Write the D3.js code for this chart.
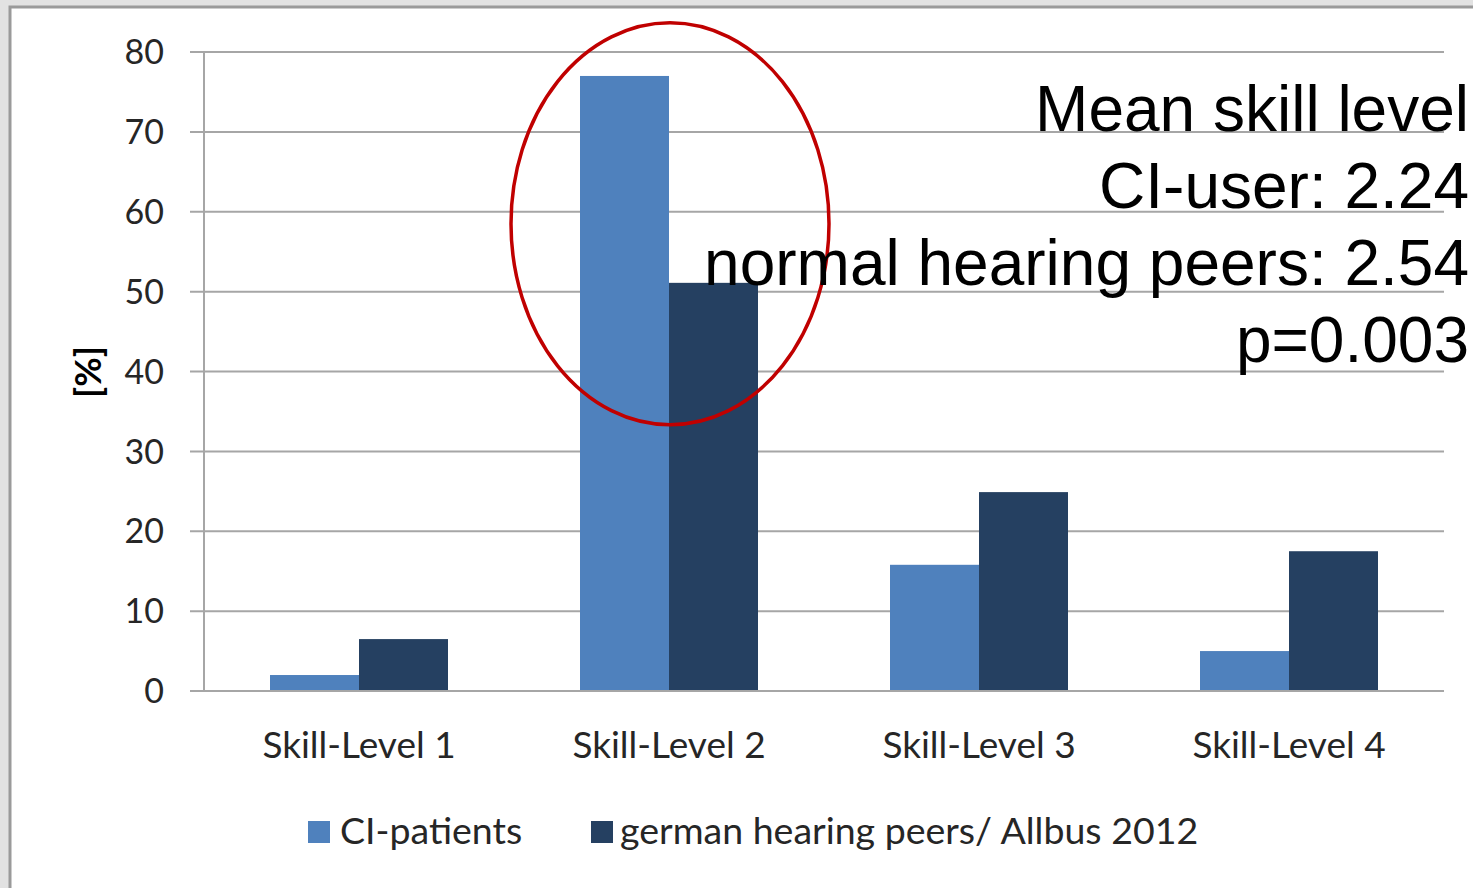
<!DOCTYPE html>
<html>
<head>
<meta charset="utf-8">
<script src="https://cdn.jsdelivr.net/npm/d3@7"></script>
<style>
  html, body { margin: 0; padding: 0; background: #e2e2e2; }
  svg { display: block; }
</style>
</head>
<body>
<svg id="chart" width="1473" height="888"></svg>
<script>
// data
const categories = ['Skill-Level 1', 'Skill-Level 2', 'Skill-Level 3', 'Skill-Level 4'];
const series = ['CI-patients', 'german hearing peers/ Allbus 2012'];
const ciValues = [2.0, 77.0, 15.8, 5.0];
const peerValues = [6.5, 51.1, 24.9, 17.5];
const yTicks = [0, 10, 20, 30, 40, 50, 60, 70, 80];
const noteLines = ['Mean skill level', 'CI-user: 2.24', 'normal hearing peers: 2.54', 'p=0.003'];

const colors = ['#4f81bd', '#254061'];
const font = 'Lato, "Open Sans", sans-serif';

const svg = d3.select('#chart');

// slide frame
svg.append('rect')
    .attr('x', 10).attr('y', 7)
    .attr('width', 1480).attr('height', 900)
    .attr('fill', '#fff')
    .attr('stroke', '#9a9a9a')
    .attr('stroke-width', 3);

const x = d3.scaleBand().domain(categories).range([204, 1444]).padding(0);
const xs = d3.scaleBand().domain(series).range([66, 244]).padding(0);
const y = d3.scaleLinear().domain([0, 80]).range([691, 52]);

// gridlines + ticks
svg.append('g')
    .selectAll('line')
    .data(yTicks)
    .join('line')
    .attr('x1', 190).attr('x2', 1444)
    .attr('y1', d => y(d)).attr('y2', d => y(d))
    .attr('stroke', '#a6a6a6')
    .attr('stroke-width', 2);

// y axis line
svg.append('line')
    .attr('x1', 204).attr('x2', 204)
    .attr('y1', y(80)).attr('y2', y(0))
    .attr('stroke', '#a6a6a6')
    .attr('stroke-width', 2);

// y tick labels
svg.append('g')
    .selectAll('text')
    .data(yTicks)
    .join('text')
    .attr('x', 164)
    .attr('y', d => y(d))
    .attr('dy', '0.36em')
    .attr('text-anchor', 'end')
    .attr('font-family', font)
    .attr('font-size', 34)
    .attr('fill', '#262626')
    .text(d => d);

// y axis title
svg.append('text')
    .attr('transform', 'translate(88,372) rotate(-90)')
    .attr('text-anchor', 'middle')
    .attr('dy', '0.36em')
    .attr('font-family', font)
    .attr('font-weight', 'bold')
    .attr('font-size', 36)
    .attr('fill', '#000')
    .text('[%]');

// bars
const rows = categories.map((c, i) => ({ cat: c, vals: [ciValues[i], peerValues[i]] }));
const groups = svg.append('g')
    .selectAll('g')
    .data(rows)
    .join('g')
    .attr('transform', d => `translate(${x(d.cat)},0)`);

groups.selectAll('rect')
    .data(d => d.vals.map((v, j) => ({ s: series[j], v, j })))
    .join('rect')
    .attr('x', d => xs(d.s))
    .attr('width', xs.bandwidth())
    .attr('y', d => y(d.v))
    .attr('height', d => y(0) - y(d.v))
    .attr('fill', d => colors[d.j]);

// baseline redrawn over bar bottoms
svg.append('line')
    .attr('x1', 190).attr('x2', 1444)
    .attr('y1', y(0)).attr('y2', y(0))
    .attr('stroke', '#a6a6a6')
    .attr('stroke-width', 2);

// category labels
svg.append('g')
    .selectAll('text')
    .data(categories)
    .join('text')
    .attr('x', d => x(d) + x.bandwidth() / 2)
    .attr('y', 758)
    .attr('text-anchor', 'middle')
    .attr('font-family', font)
    .attr('font-size', 37)
    .attr('fill', '#262626')
    .text(d => d);

// legend
const legendX = [308, 591];
const legend = svg.append('g')
    .selectAll('g')
    .data(series)
    .join('g')
    .attr('transform', (d, i) => `translate(${legendX[i]},821)`);
legend.append('rect')
    .attr('width', 22).attr('height', 22)
    .attr('fill', (d, i) => colors[i]);
legend.append('text')
    .attr('x', (d, i) => i === 0 ? 32 : 29)
    .attr('y', 23)
    .attr('font-family', font)
    .attr('font-size', 37.5)
    .attr('fill', '#262626')
    .text(d => d);

// highlight ellipse around Skill-Level 2
svg.append('ellipse')
    .attr('cx', x('Skill-Level 2') + x.bandwidth() / 2 + 1)
    .attr('cy', y(58.5))
    .attr('rx', 159)
    .attr('ry', 201)
    .attr('fill', 'none')
    .attr('stroke', '#c00000')
    .attr('stroke-width', 3.5);

// annotation
svg.append('g')
    .selectAll('text')
    .data(noteLines)
    .join('text')
    .attr('x', 1469)
    .attr('y', (d, i) => 131 + i * 77)
    .attr('text-anchor', 'end')
    .attr('font-family', '"Liberation Sans Narrow", "Liberation Sans", Arial, sans-serif')
    .attr('font-size', 64)
    .attr('fill', '#000')
    .text(d => d);
</script>
</body>
</html>
